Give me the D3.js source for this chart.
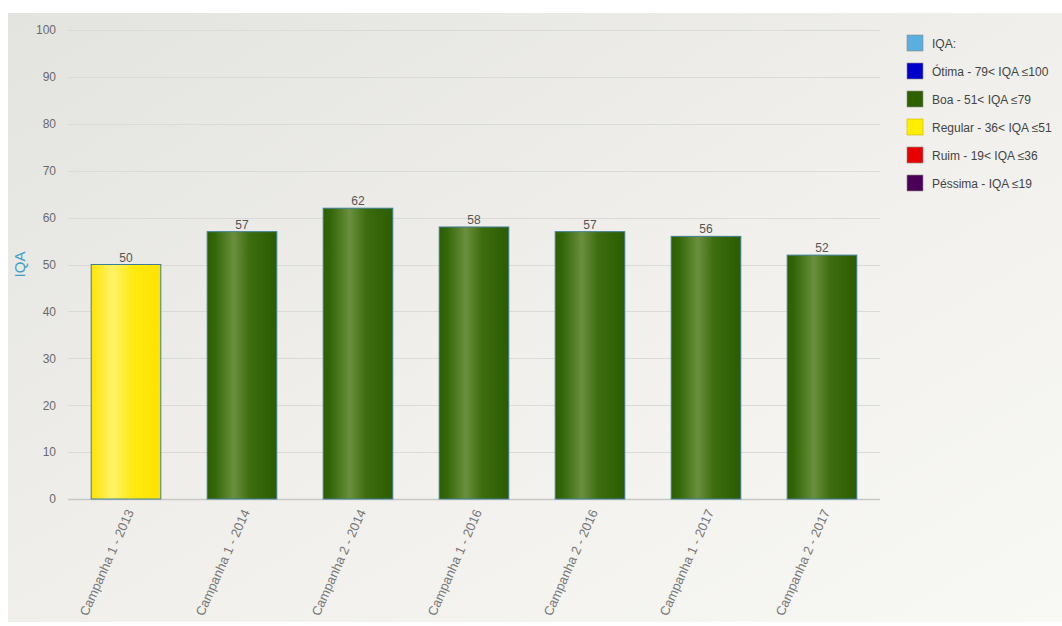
<!DOCTYPE html>
<html>
<head>
<meta charset="utf-8">
<script src="https://cdn.jsdelivr.net/npm/d3@7"></script>
<style>
  html, body { margin: 0; padding: 0; background: #ffffff; }
  svg { display: block; font-family: Arial, "Liberation Sans", sans-serif; }
</style>
</head>
<body>
<svg id="chart" width="1062" height="626"></svg>
<script>
// Campaign names and their water quality index (IQA)
const categories = [
  "Campanha 1 - 2013", "Campanha 1 - 2014", "Campanha 2 - 2014",
  "Campanha 1 - 2016", "Campanha 2 - 2016", "Campanha 1 - 2017", "Campanha 2 - 2017"
];
const values = [50, 57, 62, 58, 57, 56, 52];
const yTicks = [0, 10, 20, 30, 40, 50, 60, 70, 80, 90, 100];

// Quality classes (legend order) and their upper limits
const legendLabels = [
  "IQA:", "Ótima - 79< IQA ≤100", "Boa - 51< IQA ≤79",
  "Regular - 36< IQA ≤51", "Ruim - 19< IQA ≤36", "Péssima - IQA ≤19"
];
const legendColors = ["#5aaee0", "#0000cc", "#2f6000", "#ffee00", "#e60000", "#4a0058"];
const classLimits = [100, 79, 51, 36, 19];      // Ótima, Boa, Regular, Ruim, Péssima
const classKeys = ["otima", "boa", "regular", "ruim", "pessima"];

const svg = d3.select("#chart");
const W = 1062, H = 626;
const margin = { left: 68, right: 182, top: 30, bottom: 127 };

// Panel background with a soft diagonal gradient
const defs = svg.append("defs");
const bg = defs.append("linearGradient").attr("id", "bg")
  .attr("x1", "0%").attr("y1", "0%").attr("x2", "100%").attr("y2", "100%");
bg.append("stop").attr("offset", "0%").attr("stop-color", "#e3e3df");
bg.append("stop").attr("offset", "55%").attr("stop-color", "#f1f0ec");
bg.append("stop").attr("offset", "100%").attr("stop-color", "#f8f8f5");
svg.append("rect").attr("x", 8).attr("y", 13).attr("width", W - 8).attr("height", 609)
  .attr("fill", "url(#bg)");

// Cylindrical shading for the bars
function barGradient(id, stops) {
  const g = defs.append("linearGradient").attr("id", id)
    .attr("x1", "0%").attr("y1", "0%").attr("x2", "100%").attr("y2", "0%");
  stops.forEach(([o, c]) => g.append("stop").attr("offset", o).attr("stop-color", c));
}
barGradient("grad-boa", [["0%", "#2c5d02"], ["12%", "#36680a"], ["38%", "#6b8f3f"], ["62%", "#3c6c0e"], ["100%", "#2b5c00"]]);
barGradient("grad-regular", [["0%", "#ffe400"], ["30%", "#fff26a"], ["60%", "#ffea10"], ["100%", "#ffe300"]]);
barGradient("grad-otima", [["0%", "#0000bb"], ["35%", "#4a4aee"], ["100%", "#0000bb"]]);
barGradient("grad-ruim", [["0%", "#d00000"], ["35%", "#ff5050"], ["100%", "#d00000"]]);
barGradient("grad-pessima", [["0%", "#40004c"], ["35%", "#7a3a88"], ["100%", "#40004c"]]);

function classOf(v) {
  let k = 0;
  for (let i = 0; i < classLimits.length; i++) if (v <= classLimits[i]) k = i;
  return classKeys[k];
}

const x = d3.scaleBand().domain(categories)
  .range([margin.left, W - margin.right]).paddingInner(0.4).paddingOuter(0.2);
const y = d3.scaleLinear().domain([0, 100]).range([H - margin.bottom, margin.top]);

// Horizontal gridlines
svg.append("g").selectAll("line").data(yTicks).join("line")
  .attr("x1", margin.left).attr("x2", W - margin.right)
  .attr("y1", d => Math.round(y(d)) + 0.5).attr("y2", d => Math.round(y(d)) + 0.5)
  .attr("stroke", d => d === 0 ? "#c8c8c8" : "#dadada").attr("stroke-width", d => d === 0 ? 1.5 : 1);

// Y axis labels
const yAxis = svg.append("g").attr("transform", `translate(${margin.left},0)`)
  .call(d3.axisLeft(y).tickValues(yTicks).tickSize(0).tickPadding(12));
yAxis.select(".domain").remove();
yAxis.selectAll("text").attr("fill", "#6a6a6a").attr("font-size", 12);

// Y axis title
svg.append("text")
  .attr("transform", `translate(25,${(y(0) + y(100)) / 2}) rotate(-90)`)
  .attr("text-anchor", "middle").attr("fill", "#3aa0c8").attr("font-size", 15)
  .text("IQA");

// Bars
svg.append("g").selectAll("rect").data(values).join("rect")
  .attr("x", (d, i) => x(categories[i]))
  .attr("y", d => y(d))
  .attr("width", x.bandwidth())
  .attr("height", d => y(0) - y(d))
  .attr("fill", d => `url(#grad-${classOf(d)})`)
  .attr("stroke", "#3f7f96").attr("stroke-width", 1);

// Value labels
svg.append("g").selectAll("text").data(values).join("text")
  .attr("x", (d, i) => x(categories[i]) + x.bandwidth() / 2)
  .attr("y", d => y(d) - 3)
  .attr("text-anchor", "middle").attr("fill", "#555").attr("font-size", 12)
  .text(d => d);

// Category labels, slanted
const xAxis = svg.append("g").attr("transform", `translate(0,${y(0)})`)
  .call(d3.axisBottom(x).tickSize(0).tickPadding(0));
xAxis.select(".domain").remove();
xAxis.selectAll("text")
  .attr("fill", "#777").attr("font-size", 13)
  .attr("text-anchor", "end")
  .attr("dy", "0.35em")
  .attr("transform", "translate(4,11) rotate(-66)");

// Legend
const legend = svg.append("g").attr("transform", "translate(907,35)");
const items = legend.selectAll("g").data(legendLabels).join("g")
  .attr("transform", (d, i) => `translate(0,${i * 28})`);
items.append("rect").attr("width", 16).attr("height", 16)
  .attr("fill", (d, i) => legendColors[i])
  .attr("stroke", (d, i) => i === 3 ? "#c8b400" : "#8a8a8a").attr("stroke-width", 0.6);
items.append("text").attr("x", 25).attr("y", 12.5)
  .attr("fill", "#444").attr("font-size", 12)
  .text(d => d);
</script>
</body>
</html>
